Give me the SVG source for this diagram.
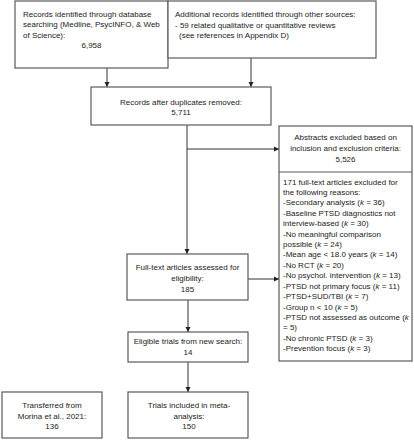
<svg xmlns="http://www.w3.org/2000/svg" width="414" height="440" viewBox="0 0 414 440">
<defs>
<style>
.box{fill:#fff;stroke:#5a5a5a;stroke-width:1.2}
.t{font-family:"Liberation Sans",Arial,sans-serif;font-size:8px;fill:#222}
.c{text-anchor:middle}
.ln{stroke:#333;stroke-width:1;fill:none}
</style>
<marker id="ah" markerWidth="6" markerHeight="6" refX="5" refY="3" orient="auto" markerUnits="userSpaceOnUse">
<path d="M0,0.5 L5,3 L0,5.5 Z" fill="#222"/>
</marker>
</defs>
<rect width="414" height="440" fill="#fff"/>
<g id="connectors">
<line class="ln" x1="107" y1="68" x2="107" y2="87" marker-end="url(#ah)"/>
<line class="ln" x1="251" y1="58" x2="251" y2="87" marker-end="url(#ah)"/>
<line class="ln" x1="187" y1="125" x2="187" y2="254" marker-end="url(#ah)"/>
<line class="ln" x1="187" y1="149" x2="279" y2="149" marker-end="url(#ah)"/>
<line class="ln" x1="248" y1="279" x2="279" y2="279" marker-end="url(#ah)"/>
<line class="ln" x1="188" y1="300" x2="188" y2="332" marker-end="url(#ah)"/>
<line class="ln" x1="188" y1="362" x2="188" y2="392" marker-end="url(#ah)"/>
<line class="ln" x1="211" y1="415" x2="236" y2="415" marker-end="url(#ah)"/>
</g>
<g id="db">
<rect class="box" x="15" y="1" width="153" height="67"/>
<text class="t" x="23" y="16.5">Records identified through database</text>
<text class="t" x="23" y="27">searching (Medline, PsycINFO, &amp; Web</text>
<text class="t" x="23" y="37.5">of Science):</text>
<text class="t c" x="91.5" y="48">6,958</text>
</g>
<g id="other">
<rect class="box" x="168" y="1" width="208" height="57"/>
<text class="t" x="175" y="17">Additional records identified through other sources:</text>
<text class="t" x="175" y="27.5">- 59 related qualitative or quantitative reviews</text>
<text class="t" x="179" y="38">(see references in Appendix D)</text>
</g>
<g id="dedup">
<rect class="box" x="91" y="87" width="180" height="38"/>
<text class="t c" x="181" y="105">Records after duplicates removed:</text>
<text class="t c" x="181" y="115">5,711</text>
</g>
<g id="excluded">
<rect class="box" x="279" y="126" width="133" height="235"/>
<line stroke="#5a5a5a" stroke-width="1.2" x1="279" y1="172" x2="412" y2="172"/>
<text class="t c" x="345.5" y="140">Abstracts excluded based on</text>
<text class="t c" x="345.5" y="151">inclusion and exclusion criteria:</text>
<text class="t c" x="345.5" y="162">5,526</text>
<text class="t" x="283" y="184.5">171 full-text articles excluded for</text>
<text class="t" x="283" y="194.9">the following reasons:</text>
<text class="t" x="283" y="205.3">-Secondary analysis (<tspan font-style="italic">k</tspan> = 36)</text>
<text class="t" x="283" y="215.8">-Baseline PTSD diagnostics not</text>
<text class="t" x="283" y="226.2">interview-based (<tspan font-style="italic">k</tspan> = 30)</text>
<text class="t" x="283" y="236.6">-No meaningful comparison</text>
<text class="t" x="283" y="247">possible (<tspan font-style="italic">k</tspan> = 24)</text>
<text class="t" x="283" y="257.4">-Mean age &lt; 18.0 years (<tspan font-style="italic">k</tspan> = 14)</text>
<text class="t" x="283" y="267.8">-No RCT (<tspan font-style="italic">k</tspan> = 20)</text>
<text class="t" x="283" y="278.3">-No psychol. intervention (<tspan font-style="italic">k</tspan> = 13)</text>
<text class="t" x="283" y="288.7">-PTSD not primary focus (<tspan font-style="italic">k</tspan> = 11)</text>
<text class="t" x="283" y="299.1">-PTSD+SUD/TBI (<tspan font-style="italic">k</tspan> = 7)</text>
<text class="t" x="283" y="309.5">-Group n &lt; 10 (<tspan font-style="italic">k</tspan> = 5)</text>
<text class="t" x="283" y="319.9">-PTSD not assessed as outcome (<tspan font-style="italic">k</tspan></text>
<text class="t" x="283" y="330.3">= 5)</text>
<text class="t" x="283" y="340.8">-No chronic PTSD (<tspan font-style="italic">k</tspan> = 3)</text>
<text class="t" x="283" y="351.2">-Prevention focus (<tspan font-style="italic">k</tspan> = 3)</text>
</g>
<g id="fulltext">
<rect class="box" x="127" y="254" width="121" height="46"/>
<text class="t c" x="187.5" y="270">Full-text articles assessed for</text>
<text class="t c" x="187.5" y="281">eligibility:</text>
<text class="t c" x="187.5" y="292">185</text>
</g>
<g id="eligible">
<rect class="box" x="128" y="332" width="120" height="30"/>
<text class="t c" x="188" y="344">Eligible trials from new search:</text>
<text class="t c" x="188" y="355">14</text>
</g>
<g id="transferred">
<rect class="box" x="2" y="392" width="100" height="46"/>
<text class="t c" x="52" y="408">Transferred from</text>
<text class="t c" x="52" y="418.5">Morina et al., 2021:</text>
<text class="t c" x="52" y="429">136</text>
</g>
<g id="included">
<rect class="box" x="128" y="392" width="120" height="46"/>
<text class="t c" x="189" y="408">Trials included in meta-</text>
<text class="t c" x="189" y="418.5">analysis:</text>
<text class="t c" x="189" y="429">150</text>
</g>
</svg>
